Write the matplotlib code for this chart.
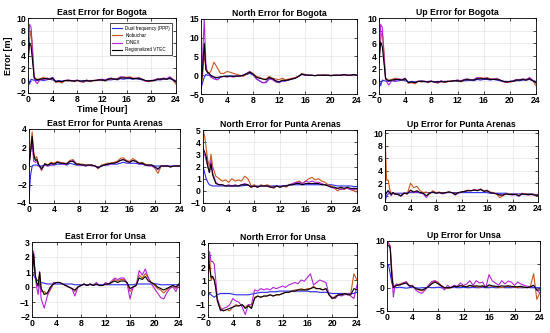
from matplotlib import pyplot as plt
import numpy as np

plt.rcParams['font.family'] = ['Liberation Sans', 'DejaVu Sans']

# time grid [hour]
hours = [0, 0.25, 0.5, 0.75, 1, 1.25, 1.5] + [2 + 0.5 * i for i in range(45)]

labels = ["Dual frequency (PPP)", "Klobuchar", "IONEX", "Regionalized VTEC"]
colors = ["#2b2bf0", "#c8581e", "#b324d8", "#000000"]

# East - Bogota
bog_e_ppp = [0.5,-0.6,0.2,0.1,0.05,0.0,0.0,0.1,0.0,0.1,0.2,0.1,-0.1,0.0,-0.1,0.0,0.0,-0.1,0.0,0.0,-0.1,0.0,-0.1,0.0,0.0,0.0,0.1,0.0,0.0,0.1,0.1,0.2,0.1,0.3,0.2,0.3,0.3,0.2,0.3,0.2,0.1,0.0,0.0,-0.1,0.0,0.1,0.1,0.2,0.2,0.3,0.1,0.0]
bog_e_klob = [3,6.5,8,5,0.6,0.3,0.2,0.3,0.5,0.3,0.2,0.4,-0.3,-0.2,-0.4,0.0,-0.1,0.0,-0.2,0.0,-0.1,-0.3,0.0,-0.2,-0.1,0.1,0.0,0.2,-0.1,0.2,0.3,0.3,0.2,0.5,0.6,0.5,0.6,0.4,0.3,0.5,0.2,0.0,-0.2,-0.1,0.0,0.2,0.3,0.3,0.2,0.5,0.1,-0.6]
bog_e_ionex = [3,9,8.5,4,0.3,-0.2,-0.5,0.2,0.1,0.4,0.3,0.5,-0.2,-0.1,-0.2,0.0,0.1,0.0,-0.1,0.1,-0.2,-0.2,0.1,-0.1,0.0,0.0,0.1,0.2,0.1,0.3,0.4,0.2,0.3,0.6,0.5,0.4,0.5,0.3,0.4,0.4,0.2,-0.1,-0.1,0.0,0.1,0.3,0.2,0.4,0.3,0.6,0.2,-0.3]
bog_e_vtec = [3,6,5.5,3,0.5,0.2,0.1,0.2,0.3,0.3,0.2,0.4,-0.2,-0.1,-0.2,0.0,0.0,0.0,-0.1,0.0,-0.1,-0.1,0.0,-0.1,0.0,0.0,0.1,0.1,0.0,0.2,0.3,0.2,0.2,0.4,0.4,0.4,0.4,0.3,0.3,0.3,0.2,0.0,-0.1,0.0,0.0,0.2,0.2,0.3,0.2,0.4,0.1,-0.2]

# North - Bogota
bog_n_ppp = [-3.5,-2,-0.5,0.2,0.0,0.0,-0.3,-0.5,-1.2,-0.5,-0.3,-0.2,-0.3,-0.2,-0.3,-0.2,0.0,0.2,0.5,0.1,-0.8,-1.5,-2.0,-1.8,-0.8,-1.0,-1.5,-1.8,-1.6,-1.5,-1.3,-1.0,-0.7,-0.3,0.2,0.1,0.0,0.0,-0.1,0.0,0.0,0.0,0.0,-0.1,0.0,0.0,0.0,0.1,0.0,0.0,0.1,0.0]
bog_n_klob = [-3,0,6,1.5,1,0.5,1,3.5,2,0.5,0.5,1,0.8,0.5,0.2,0,-0.3,0.3,1,0.5,-0.3,-0.5,-1,-1,-0.3,-0.8,-1,-1.2,-0.8,-1.2,-1,-0.8,-0.6,-0.3,0.5,0.2,0,0,-0.1,0,0,0.1,0,0,0,0,0,0.2,0,0,0.2,0]
bog_n_ionex = [-3.5,5,15,3,0.5,0.3,-0.5,-1,-1.2,-0.5,-0.3,-0.5,-0.3,-0.5,-0.2,-0.3,0,0.5,1,0.3,-1,-1.5,-2,-2,-1,-1.2,-1.8,-2,-1.5,-1.5,-1.2,-1,-0.8,-0.3,0.3,0,0,0,-0.1,0,0,0,0,-0.1,0,0,0,0.1,0,0,0.1,0]
bog_n_vtec = [-3.5,2,8.5,1.5,0.8,0.5,0,-0.5,-0.6,-0.4,-0.3,-0.3,-0.2,-0.3,-0.2,-0.2,0,0.4,0.8,0.3,-0.5,-0.8,-1.0,-1.2,-0.6,-0.9,-1.5,-1.8,-1.3,-1.4,-1.2,-1,-0.8,-0.3,0.3,0.1,0,0,-0.1,0,0,0,0,-0.1,0,0,0,0.2,0,0,0.2,0]

# Up - Bogota
bog_u_ppp = [0.5,-0.7,0.2,0.1,0.05,0.0,0.0,0.1,0.0,0.1,0.2,0.1,-0.1,0.0,-0.1,0.0,0.0,-0.1,0.0,0.0,-0.1,0.0,-0.1,0.0,0.0,0.0,0.1,0.0,0.0,0.1,0.1,0.2,0.1,0.3,0.2,0.3,0.3,0.2,0.3,0.2,0.1,0.0,0.0,-0.1,0.0,0.1,0.1,0.2,0.2,0.3,0.1,0.0]
bog_u_klob = [3,6.5,8,5,0.6,0.3,0.2,0.3,0.5,0.3,0.2,0.4,-0.3,-0.2,-0.4,0.0,-0.1,0.0,-0.2,0.0,-0.1,-0.3,0.0,-0.2,-0.1,0.1,0.0,0.2,-0.1,0.2,0.3,0.3,0.2,0.5,0.6,0.5,0.6,0.4,0.3,0.5,0.2,0.0,-0.2,-0.1,0.0,0.2,0.3,0.3,0.2,0.5,0.1,-0.7]
bog_u_ionex = [3,9,8.5,4,0.3,-0.2,-0.6,0.2,0.1,0.4,0.3,0.5,-0.2,-0.1,-0.2,0.0,0.1,0.0,-0.1,0.1,-0.2,-0.2,0.1,-0.1,0.0,0.0,0.1,0.2,0.1,0.3,0.4,0.2,0.3,0.6,0.5,0.4,0.5,0.3,0.4,0.4,0.2,-0.1,-0.1,0.0,0.1,0.3,0.2,0.4,0.3,0.6,0.2,-0.3]
bog_u_vtec = [3,6.2,5.5,3,0.5,0.2,0.1,0.2,0.3,0.3,0.2,0.4,-0.2,-0.1,-0.2,0.0,0.0,0.0,-0.1,0.0,-0.1,-0.1,0.0,-0.1,0.0,0.0,0.1,0.1,0.0,0.2,0.3,0.2,0.2,0.4,0.4,0.4,0.4,0.3,0.3,0.3,0.2,0.0,-0.1,0.0,0.0,0.2,0.2,0.3,0.2,0.4,0.1,-0.2]

# East - Punta Arenas
pun_e_ppp = [-3.5,-1,0,0.1,0.1,0.1,0,0,0.1,0,0.1,0.1,0.2,0.2,0.2,0.1,0.3,0.2,0.1,0.1,0.1,0,0.1,0.1,0,-0.1,0,0.1,0.1,0.2,0.2,0.2,0.3,0.4,0.3,0.3,0.3,0.3,0.2,0.2,0.1,0.1,0.1,0,0,0,0,0,0,0,0,0]
pun_e_klob = [0,2,3.7,1.5,0.8,1,0.2,-0.5,0.3,0.1,0.4,0.3,0.5,0.4,0.3,0.3,0.6,0.7,0.3,0.2,0.2,0.1,0.1,0.1,0,-0.3,0.1,0.2,0.3,0.3,0.4,0.5,0.8,0.9,0.6,0.5,0.8,0.6,0.3,0.4,0.2,0.1,0.1,-0.2,-0.8,0,0,0,-0.1,0,0,0]
pun_e_ionex = [0,1.5,2.5,0.5,0.4,0.5,0.1,-0.4,0.2,0,0.2,0.2,0.4,0.3,0.2,0.2,0.5,0.6,0.2,0.1,0.1,0,0.1,0,0,-0.2,0,0.1,0.2,0.2,0.3,0.4,0.6,0.7,0.5,0.4,0.6,0.5,0.2,0.3,0.1,0,0,-0.2,-0.4,0,0,0,-0.1,0,0,0]
pun_e_vtec = [0,1.5,3.2,1.2,0.6,0.7,0.2,-0.3,0.2,0.1,0.3,0.2,0.4,0.3,0.3,0.2,0.5,0.5,0.2,0.2,0.1,0.1,0.1,0.1,0,-0.2,0,0.1,0.2,0.3,0.3,0.4,0.6,0.7,0.5,0.4,0.6,0.5,0.3,0.3,0.1,0.1,0.1,-0.1,-0.3,0,0,0,-0.1,0,0,0]

# North - Punta Arenas
pun_n_ppp = [2,1.5,1.0,0.7,0.5,0.45,0.4,0.4,0.4,0.4,0.4,0.4,0.4,0.4,0.4,0.4,0.45,0.45,0.4,0.4,0.4,0.4,0.4,0.4,0.4,0.4,0.4,0.4,0.4,0.45,0.45,0.5,0.5,0.5,0.5,0.5,0.5,0.5,0.5,0.5,0.5,0.5,0.5,0.5,0.45,0.4,0.4,0.4,0.4,0.4,0.35,0.35]
pun_n_klob = [5,4.5,3.5,2.5,2,3,2,1.2,1,0.8,0.9,0.7,1,0.8,0.9,0.8,1.2,1,0.4,0.5,0.3,0.5,0.4,0.5,0.4,0.2,0.4,0.3,0.4,0.3,0.5,0.6,0.7,0.8,0.6,0.8,1.0,1.1,0.9,1.0,0.8,0.7,0.5,0.4,0.2,0,0.2,0.1,0.3,0.1,0,-0.1]
pun_n_ionex = [3,3,2.5,2,1.5,2.5,1.5,0.7,0.5,0.5,0.4,0.5,0.4,0.5,0.4,0.5,0.6,0.5,0.3,0.4,0.3,0.4,0.4,0.4,0.3,0.3,0.4,0.3,0.4,0.4,0.5,0.6,0.7,0.7,0.6,0.8,0.7,0.8,0.7,0.7,0.6,0.5,0.4,0.3,0.2,0.2,0.1,0.2,0.2,0.1,0.1,0.1]
pun_n_vtec = [3.5,3.2,2.8,2,1.5,2.2,1.3,0.6,0.5,0.5,0.4,0.4,0.4,0.4,0.4,0.5,0.5,0.5,0.3,0.4,0.3,0.4,0.4,0.4,0.3,0.3,0.4,0.3,0.4,0.4,0.5,0.5,0.6,0.6,0.5,0.6,0.6,0.6,0.6,0.6,0.5,0.5,0.4,0.3,0.3,0.2,0.3,0.2,0.3,0.2,0.2,0.2]

# Up - Punta Arenas
pun_u_ppp = [-1,0,0.3,0.4,0.4,0.4,0.4,0.4,0.4,0.4,0.5,0.5,0.5,0.5,0.5,0.5,0.5,0.5,0.5,0.5,0.5,0.5,0.5,0.5,0.5,0.5,0.5,0.5,0.5,0.5,0.5,0.5,0.5,0.5,0.5,0.5,0.4,0.4,0.4,0.4,0.4,0.4,0.3,0.3,0.3,0.3,0.3,0.3,0.3,0.3,0.2,0.2]
pun_u_klob = [10,2.5,2.5,1,0.3,0.5,0.2,0.3,0,0.5,0.3,2,1.3,1.5,0.8,0.5,0.6,0.3,0.8,0.5,0.6,0.4,0.5,0.6,0.5,0.3,0.5,0.6,0.7,0.9,0.8,1,0.8,1.1,0.8,0.9,0.6,0.5,0.3,-0.3,0,0.4,0.3,0.2,0.3,0,0.4,0.3,0.2,0.3,0.2,0.1]
pun_u_ionex = [0,0.5,0.8,0.3,0,0.5,0.3,0.2,-0.1,0.4,0.3,0.8,0.5,0.7,0.4,0.3,-0.3,0.4,0.6,0.4,0.5,0.3,0.4,0.6,0.5,0.1,0.4,0.6,0.7,0.8,0.8,0.9,0.9,1.0,0.7,0.8,0.5,0.4,0.3,0.2,0.1,0.3,0.2,0.1,0.2,-0.1,0.3,0.2,0.1,0.2,0.1,0.1]
pun_u_vtec = [0,0.5,0.8,0.5,0.2,0.5,0.3,0.2,0,0.4,0.3,0.9,0.6,0.8,0.5,0.4,0,0.4,0.6,0.4,0.5,0.4,0.5,0.6,0.5,0.2,0.5,0.6,0.7,0.8,0.8,0.9,0.8,1.0,0.7,0.8,0.5,0.4,0.3,0.1,0.1,0.3,0.2,0.2,0.2,0,0.3,0.2,0.2,0.2,0.1,0.1]

# East - Unsa
uns_e_ppp = [1,0.8,0.6,0.5,0.4,0.35,0.3,0.25,0.2,0.2,0.2,0.2,0.2,0.2,0.2,0.2,0.2,0.15,0.15,0.15,0.15,0.15,0.15,0.15,0.15,0.15,0.15,0.15,0.15,0.15,0.15,0.15,0.15,0.15,0.15,0.15,0.15,0.2,0.2,0.2,0.2,0.2,0.2,0.2,0.2,0.15,0.15,0.15,0.15,0.15,0.15,0.15]
uns_e_klob = [0.5,2.3,0.8,0.2,0,1.0,-0.3,-0.3,-0.5,-0.2,0.2,0.3,0.3,0.2,0.1,0,-0.1,-0.3,0,0.1,0.2,0.1,0.2,0.1,0.2,0.1,0.1,0.2,0.2,0.3,0.5,0.4,0.5,0.5,0.3,-0.3,0,0.1,0.8,0.6,0.9,0.6,0.3,0.1,-0.1,-0.2,-0.4,-0.2,0,0.1,-0.1,0.2]
uns_e_ionex = [0.5,2.4,1,0,-0.5,0.5,-0.8,-1.4,-0.6,-0.1,0.3,0.3,0.3,0.2,0.1,0,-0.1,-0.6,0,0.1,0.2,0.1,0.2,0.1,0.3,0.1,0.1,0.3,0.2,0.4,0.6,0.5,0.6,0.6,0.3,-0.8,0,0.1,1.1,0.8,1.2,0.6,0.2,-0.1,-0.4,-0.7,-0.8,-0.4,-0.1,0,-0.3,0.2]
uns_e_vtec = [0.5,2.2,0.9,0.3,0.1,1.0,-0.1,-0.5,-0.4,0,0.2,0.3,0.3,0.2,0.1,0,-0.1,-0.2,0,0.1,0.2,0.1,0.2,0.1,0.2,0.1,0.1,0.2,0.2,0.3,0.4,0.3,0.4,0.4,0.3,-0.1,0,0.1,0.6,0.5,0.7,0.4,0.3,0.2,0,-0.1,-0.2,-0.1,0,0.1,0,0.2]

# North - Unsa
uns_n_ppp = [-0.3,-0.1,-0.2,-0.3,-0.4,-0.3,-0.2,-0.1,-0.1,-0.1,-0.1,-0.15,-0.2,-0.2,-0.2,-0.2,-0.2,-0.15,-0.1,-0.05,0,0,0,0.05,0.05,0.05,0.1,0.1,0.1,0.1,0.1,0.1,0.1,0.1,0.1,0.1,0.05,0.05,0.05,0,0,0,-0.05,-0.1,-0.1,-0.1,-0.1,-0.1,-0.1,-0.1,-0.1,0]
uns_n_klob = [1.5,3,1,1.2,1,0.5,-0.5,-1.2,-1.5,-1.4,-1.5,-1.2,-1,-1.1,-1,-1.2,-1,-1.3,-0.4,-0.3,-0.4,-0.3,-0.3,-0.2,-0.3,-0.2,-0.2,-0.1,0,0,0.1,0.2,0.2,0.3,0.2,0.3,0.3,0.5,0.3,0.3,0.2,0.3,-0.2,-0.5,-0.3,-0.2,-0.2,-0.1,-0.2,-0.1,1.5,1.0]
uns_n_ionex = [2,3.3,2.5,2.5,2.3,1,-0.5,-1.5,-1.3,-1.2,-1,-0.5,-0.7,-0.8,-1.2,-1.8,-1,-1,0.2,0.1,0.3,0.2,0.3,0.2,0.4,0.3,0.4,0.5,0.4,0.6,0.7,0.8,0.7,1.0,0.9,1.2,1.5,0.6,0.8,1.0,0.9,0.8,-0.2,-0.4,-0.5,-0.2,-0.3,-0.2,-0.1,-0.3,-0.5,0.6]
uns_n_vtec = [3,2,1.2,1.3,1,0.3,-0.7,-1.4,-1.5,-1.4,-1.3,-1.2,-1.1,-1.1,-1,-1.3,-1.1,-1.3,-0.5,-0.3,-0.4,-0.3,-0.3,-0.2,-0.3,-0.2,-0.2,-0.1,0,0,0.1,0.1,0.2,0.2,0.2,0.2,0.3,0.4,0.3,0.3,0.2,0.3,-0.2,-0.5,-0.4,-0.2,-0.2,-0.1,-0.2,-0.2,0.3,0.2]

# Up - Unsa
uns_u_ppp = [5,4.8,3,1,0.3,0.1,0,0.1,0,-0.1,0,0.1,0,-0.1,0,0,0.1,0,0,0.1,0,-0.1,0,0,0.1,0,0,0.1,0,0,0.1,0,0,0.1,0,0,0.1,0,0,0.1,0,0,0,0.1,0,0,0,0.1,0,0,0,0]
uns_u_klob = [10,9.5,9,4,0,0.3,0.5,0.8,1,1.2,0.5,0.3,-0.2,-0.5,-0.7,-0.3,0.2,1.0,1.5,1.2,0.5,0,-0.2,0,0.3,0.2,0.5,0.3,0.2,0.4,0.3,0.2,0.1,0.3,0.2,0.4,0.3,0.2,0.1,0,0.2,0.3,0.2,0.1,0,0.2,0.1,0,0.3,3,-2.5,-1]
uns_u_ionex = [10,9.5,8.8,3,-2,0.5,0.8,0.5,1,1.3,0.3,0.5,-0.5,-1,-1.2,-0.5,0.5,1.3,1.5,0.8,0.3,-0.5,0.5,0,0.5,0.3,1,0.5,0.8,1.5,0.5,1.5,1,1.2,0,2.8,1.5,1.0,0.5,1.5,0.8,1.4,1.2,0.5,1.2,0.8,0.5,0.3,0.2,0.5,-0.5,-1.2]
uns_u_vtec = [9,9,8.5,2.5,0,0.3,0.5,0.6,0.8,1.0,0.4,0.3,-0.2,-0.4,-0.5,-0.2,0.2,0.8,1.2,0.9,0.4,0,0,0,0.3,0.2,0.4,0.3,0.2,0.5,0.3,0.4,0.3,0.4,0.1,0.6,0.4,0.3,0.2,0.4,0.3,0.4,0.3,0.2,0.2,0.3,0.1,0,0.2,0.5,-0.5,-0.5]

titles = ["East Error for Bogota", "North Error for Bogota", "Up Error for Bogota",
          "East Error for Punta Arenas", "North Error for Punta Arenas", "Up Error for Punta Arenas",
          "East Error for Unsa", "North Error for Unsa", "Up Error for Unsa"]
series = [
    [bog_e_ppp, bog_e_klob, bog_e_ionex, bog_e_vtec],
    [bog_n_ppp, bog_n_klob, bog_n_ionex, bog_n_vtec],
    [bog_u_ppp, bog_u_klob, bog_u_ionex, bog_u_vtec],
    [pun_e_ppp, pun_e_klob, pun_e_ionex, pun_e_vtec],
    [pun_n_ppp, pun_n_klob, pun_n_ionex, pun_n_vtec],
    [pun_u_ppp, pun_u_klob, pun_u_ionex, pun_u_vtec],
    [uns_e_ppp, uns_e_klob, uns_e_ionex, uns_e_vtec],
    [uns_n_ppp, uns_n_klob, uns_n_ionex, uns_n_vtec],
    [uns_u_ppp, uns_u_klob, uns_u_ionex, uns_u_vtec],
]
ylims = [(-2, 10), (-5, 15), (-2, 10), (-4, 4), (-1, 5), (-1, 10.5), (-2, 3), (-2, 4), (-5, 10)]
yticks = [np.arange(-2, 11, 2), np.arange(-5, 16, 5), np.arange(-2, 11, 2),
          np.arange(-4, 5, 2), np.arange(-1, 6, 1), np.arange(0, 11, 2),
          np.arange(-2, 4, 1), np.arange(-2, 5, 1), np.arange(-5, 11, 5)]

# axes boxes in pixels: left, top, right, bottom
boxes = [(28, 18, 176, 93), (201, 19, 357, 94), (379, 18, 536, 94),
         (29, 129, 180, 203), (203, 130, 357, 203), (385, 130, 538, 202),
         (32, 242, 179, 317), (208, 243, 357, 317), (387, 241, 540, 311)]

W, H = 550, 333
fig = plt.figure(figsize=(W / 100, H / 100), dpi=100)

for i in range(9):
    l, t, r, b = boxes[i]
    ax = fig.add_axes([l / W, 1 - b / H, (r - l) / W, (b - t) / H])
    for k in range(4):
        ax.plot(hours, series[i][k], color=colors[k], linewidth=0.8, label=labels[k])
    ax.set_xlim(0, 24)
    ax.set_ylim(*ylims[i])
    ax.set_xticks(np.arange(0, 25, 4))
    ax.set_yticks(yticks[i])
    ax.grid(True, color="#e4e4e4", linewidth=0.5)
    ax.tick_params(direction="in", length=2, width=0.5, labelsize=6.2, pad=1.5,
                   top=True, right=True)
    for lab in ax.get_xticklabels() + ax.get_yticklabels():
        lab.set_fontweight("bold")
    for sp in ax.spines.values():
        sp.set_linewidth(0.6)
    ax.set_title(titles[i], fontsize=6.3, fontweight="bold", pad=2.5)
    if i == 0:
        ax.set_ylabel("Error [m]", fontsize=6.5, fontweight="bold", labelpad=2)
        ax.set_xlabel("Time [Hour]", fontsize=6.5, fontweight="bold", labelpad=1)
        leg = ax.legend(loc="upper right", fontsize=3.3, handlelength=2.2,
                        handletextpad=0.6, borderpad=0.5, labelspacing=0.5,
                        fancybox=False, framealpha=1, bbox_to_anchor=(0.99, 0.96))
        leg.get_frame().set_edgecolor("black")
        leg.get_frame().set_linewidth(0.5)

plt.savefig("out.png", dpi=100)
